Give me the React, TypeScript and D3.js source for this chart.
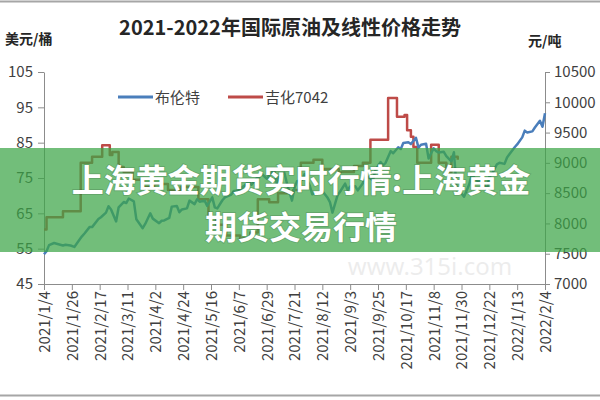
import * as d3 from "d3";
import { useEffect, useRef } from "react";

// 布伦特 (美元/桶)
const brentDates = [
    "2021-01-04", "2021-01-06", "2021-01-08", "2021-01-12", "2021-01-14", "2021-01-19", "2021-01-21",
    "2021-01-25", "2021-01-28", "2021-02-01", "2021-02-03", "2021-02-05", "2021-02-09", "2021-02-11",
    "2021-02-16", "2021-02-18", "2021-02-22", "2021-02-24", "2021-02-26", "2021-03-02", "2021-03-04",
    "2021-03-08", "2021-03-10", "2021-03-12", "2021-03-16", "2021-03-18", "2021-03-23", "2021-03-25",
    "2021-03-29", "2021-03-31", "2021-04-05", "2021-04-07", "2021-04-09", "2021-04-13", "2021-04-15",
    "2021-04-19", "2021-04-21", "2021-04-23", "2021-04-27", "2021-04-29", "2021-05-03", "2021-05-05",
    "2021-05-07", "2021-05-11", "2021-05-13", "2021-05-17", "2021-05-19", "2021-05-21", "2021-05-25",
    "2021-05-27", "2021-06-01", "2021-06-03", "2021-06-07", "2021-06-09", "2021-06-11", "2021-06-15",
    "2021-06-17", "2021-06-21", "2021-06-23", "2021-06-25", "2021-06-29", "2021-07-01", "2021-07-05",
    "2021-07-07", "2021-07-09", "2021-07-13", "2021-07-15", "2021-07-19", "2021-07-21", "2021-07-23",
    "2021-07-27", "2021-07-29", "2021-08-02", "2021-08-04", "2021-08-06", "2021-08-10", "2021-08-12",
    "2021-08-16", "2021-08-18", "2021-08-20", "2021-08-24", "2021-08-26", "2021-08-30", "2021-09-01",
    "2021-09-03", "2021-09-07", "2021-09-09", "2021-09-13", "2021-09-15", "2021-09-17", "2021-09-21",
    "2021-09-23", "2021-09-27", "2021-09-29", "2021-10-01", "2021-10-05", "2021-10-07", "2021-10-11",
    "2021-10-13", "2021-10-15", "2021-10-19", "2021-10-21", "2021-10-25", "2021-10-27", "2021-10-29",
    "2021-11-02", "2021-11-04", "2021-11-08", "2021-11-10", "2021-11-12", "2021-11-16", "2021-11-18",
    "2021-11-22", "2021-11-24", "2021-11-26", "2021-11-30", "2021-12-02", "2021-12-06", "2021-12-08",
    "2021-12-10", "2021-12-14", "2021-12-16", "2021-12-20", "2021-12-22", "2021-12-24", "2021-12-28",
    "2021-12-30", "2022-01-03", "2022-01-05", "2022-01-07", "2022-01-11", "2022-01-13", "2022-01-17",
    "2022-01-19", "2022-01-21", "2022-01-25", "2022-01-27", "2022-01-31", "2022-02-02", "2022-02-04",
];
const brentValues = [
    53.4, 54.3, 56.0, 56.6, 56.4, 55.9, 56.1,
    55.9, 55.5, 57.5, 58.5, 59.3, 61.1, 61.1,
    63.4, 63.9, 65.2, 67.0, 66.1, 62.7, 66.7,
    68.2, 67.9, 69.2, 68.4, 63.3, 60.8, 62.0,
    65.0, 63.5, 62.2, 62.9, 63.0, 63.7, 66.9,
    67.1, 65.3, 66.1, 66.4, 68.6, 67.6, 69.0,
    68.3, 68.6, 67.1, 69.5, 66.7, 66.4, 68.7,
    69.5, 70.3, 71.3, 71.5, 72.2, 72.7, 74.0,
    73.1, 74.9, 75.2, 76.2, 74.8, 75.8, 77.2,
    73.4, 75.6, 76.5, 73.5, 68.6, 72.2, 74.1,
    74.5, 76.1, 72.9, 70.4, 70.7, 70.6, 71.3,
    69.5, 68.2, 65.2, 70.1, 71.1, 73.4, 71.6,
    72.6, 72.7, 71.5, 73.5, 75.5, 75.3, 74.4,
    77.3, 79.5, 78.6, 79.3, 82.6, 82.0, 83.7,
    83.2, 84.9, 85.1, 84.6, 86.4, 83.6, 84.4,
    84.7, 80.5, 83.4, 82.6, 82.2, 82.4, 81.2,
    79.7, 82.3, 72.7, 70.6, 69.7, 73.1, 75.8,
    75.2, 73.7, 75.0, 71.5, 75.3, 76.1, 78.9,
    79.3, 79.0, 80.8, 81.8, 83.7, 84.5, 86.5,
    88.4, 87.9, 88.2, 89.3, 91.2, 89.5, 93.3,
];

// 吉化7042 (元/吨)
const jihuaDates = [
    "2021-01-04", "2021-01-06", "2021-01-19", "2021-02-02", "2021-02-11", "2021-02-19", "2021-02-25",
    "2021-02-27", "2021-03-04", "2021-03-08", "2021-03-15", "2021-03-22", "2021-04-01", "2021-04-12",
    "2021-04-22", "2021-05-06", "2021-05-14", "2021-05-20", "2021-05-28", "2021-06-08", "2021-06-16",
    "2021-06-22", "2021-07-01", "2021-07-08", "2021-07-20", "2021-07-26", "2021-08-05", "2021-08-12",
    "2021-08-25", "2021-09-06", "2021-09-13", "2021-09-19", "2021-10-03", "2021-10-10", "2021-10-16",
    "2021-10-18", "2021-10-21", "2021-10-23", "2021-10-26", "2021-11-06", "2021-11-12", "2021-11-18",
    "2021-11-22", "2021-11-27",
];
const jihuaValues = [
    7900, 8100, 8200, 9000, 9100, 9290, 9130,
    9180, 8930, 8850, 8720, 8600, 8650, 8550,
    8600, 8400, 8100, 7980, 7800, 7750, 7850,
    8400, 8350, 8500, 8550, 9000, 9050, 8900,
    8850, 8950, 9000, 9380, 10070, 9760, 9790,
    9540, 9430, 9260, 9000, 9300, 9000, 8850,
    9100, 9050,
];

const xTickLabels = [
    "2021/1/4", "2021/1/26", "2021/2/17", "2021/3/11", "2021/4/2", "2021/4/24", "2021/5/16",
    "2021/6/7", "2021/6/29", "2021/7/21", "2021/8/12", "2021/9/3", "2021/9/25", "2021/10/17",
    "2021/11/8", "2021/11/30", "2021/12/22", "2022/1/13", "2022/2/4",
];
const leftTicks = [45, 55, 65, 75, 85, 95, 105];
const rightTicks = [7000, 7500, 8000, 8500, 9000, 9500, 10000, 10500];

const FONT = "'Noto Sans CJK SC', 'Noto Sans', sans-serif";

export default function App() {
    const svgRef = useRef<SVGSVGElement | null>(null);

    useEffect(() => {
        const width = 600;
        const height = 400;
        const left = 44;
        const right = 545;
        const top = 72;
        const bottom = 284;

        const parse = d3.timeParse("%Y-%m-%d");
        const parseTick = d3.timeParse("%Y/%m/%d");
        const tickDates = xTickLabels.map((s) => parseTick(s)!);

        const brent = brentDates.map((d, i) => ({ date: parse(d)!, value: brentValues[i] }));
        const jihua = jihuaDates.map((d, i) => ({ date: parse(d)!, value: jihuaValues[i] }));

        const svg = d3.select(svgRef.current);
        svg.selectAll("*").remove();
        svg.attr("viewBox", `0 0 ${width} ${height}`).style("font-family", FONT);

        svg.append("rect").attr("width", width).attr("height", height).attr("fill", "#fff");

        // frame lines top / bottom
        svg.append("line").attr("x1", 0).attr("x2", width).attr("y1", 1.5).attr("y2", 1.5)
            .attr("stroke", "#a6a6a6").attr("stroke-width", 2);
        svg.append("line").attr("x1", 0).attr("x2", width).attr("y1", 395.5).attr("y2", 395.5)
            .attr("stroke", "#a6a6a6").attr("stroke-width", 2);

        const x = d3.scaleTime().domain([tickDates[0], tickDates[tickDates.length - 1]]).range([left, right]);
        const yL = d3.scaleLinear().domain([45, 105]).range([bottom, top]);
        const yR = d3.scaleLinear().domain([7000, 10500]).range([bottom, top]);

        // title and units
        svg.append("text").attr("x", 290).attr("y", 35).attr("text-anchor", "middle")
            .attr("font-size", 20).attr("font-weight", 700).attr("fill", "#262626")
            .text("2021-2022年国际原油及线性价格走势");
        svg.append("text").attr("x", 5).attr("y", 44).attr("font-size", 14).attr("font-weight", 700)
            .attr("fill", "#262626").text("美元/桶");
        svg.append("text").attr("x", 528).attr("y", 46).attr("font-size", 14).attr("font-weight", 700)
            .attr("fill", "#262626").text("元/吨");

        // axes
        const axisColor = "#8c8c8c";
        const gL = svg.append("g").attr("transform", `translate(${left},0)`)
            .call(d3.axisLeft(yL).tickValues(leftTicks).tickSize(6).tickSizeOuter(0).tickPadding(5));
        const gR = svg.append("g").attr("transform", `translate(${right},0)`)
            .call(d3.axisRight(yR).tickValues(rightTicks).tickSize(5).tickSizeOuter(0).tickPadding(4)
                .tickFormat(d3.format("d")));
        const gX = svg.append("g").attr("transform", `translate(0,${bottom})`)
            .call(d3.axisBottom(x).tickValues(tickDates).tickSize(6).tickSizeOuter(0)
                .tickFormat((_, i) => xTickLabels[i]));

        [gL, gR, gX].forEach((g) => {
            g.select(".domain").attr("stroke", axisColor);
            g.selectAll(".tick line").attr("stroke", axisColor);
            g.selectAll("text").attr("fill", "#404040").attr("font-family", FONT);
        });
        gL.selectAll("text").attr("font-size", 15);
        gR.selectAll("text").attr("font-size", 15);
        gX.selectAll("text")
            .attr("font-size", 15)
            .attr("transform", "rotate(-90)")
            .attr("text-anchor", "end")
            .attr("x", -7)
            .attr("y", 0)
            .attr("dy", "0.36em");

        // lines
        const lineL = d3.line<{ date: Date; value: number }>()
            .x((d) => x(d.date)).y((d) => yL(d.value));
        const lineR = d3.line<{ date: Date; value: number }>()
            .x((d) => x(d.date)).y((d) => yR(d.value)).curve(d3.curveStepAfter);

        svg.append("path").datum(jihua).attr("d", lineR).attr("fill", "none")
            .attr("stroke", "#be4b48").attr("stroke-width", 2.5).attr("stroke-linejoin", "round");
        svg.append("path").datum(brent).attr("d", lineL).attr("fill", "none")
            .attr("stroke", "#4a7ebb").attr("stroke-width", 2.5).attr("stroke-linejoin", "round");

        // legend
        const legend = [
            { name: "布伦特", color: "#4a7ebb", x: 118 },
            { name: "吉化7042", color: "#be4b48", x: 228 },
        ];
        legend.forEach((l) => {
            svg.append("line").attr("x1", l.x).attr("x2", l.x + 35).attr("y1", 97).attr("y2", 97)
                .attr("stroke", l.color).attr("stroke-width", 3);
            svg.append("text").attr("x", l.x + 37).attr("y", 103).attr("font-size", 15)
                .attr("fill", "#404040").text(l.name);
        });

        // watermark
        svg.append("text").attr("x", 430).attr("y", 275).attr("text-anchor", "middle")
            .attr("font-size", 24).attr("fill", "#000").attr("opacity", 0.07)
            .attr("font-family", "'Noto Sans', sans-serif").text("www.315i.com");

        // green banner overlay
        svg.append("rect").attr("x", 0).attr("y", 148).attr("width", width).attr("height", 104)
            .attr("fill", "rgb(60,165,70)").attr("opacity", 0.72);

        const banner = ["上海黄金期货实时行情:上海黄金", "期货交易行情"];
        banner.forEach((t, i) => {
            svg.append("text").attr("x", 301).attr("y", 192 + i * 47).attr("text-anchor", "middle")
                .attr("font-size", 32).attr("font-weight", 700).attr("fill", "#fff")
                .style("paint-order", "stroke").attr("stroke", "rgba(0,0,0,0.12)").attr("stroke-width", 2)
                .text(t);
        });
    }, []);

    return (
        <svg
            ref={svgRef}
            width={600}
            height={400}
            style={{ position: "absolute", left: 0, top: 0 }}
        ></svg>
    );
}
